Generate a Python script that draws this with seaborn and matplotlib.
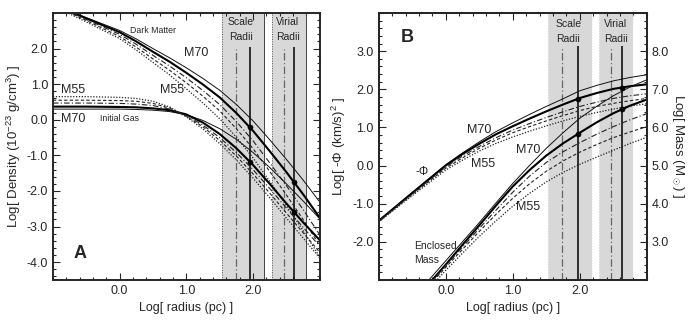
import numpy as np
import pandas as pd
import matplotlib.pyplot as plt
import seaborn as sns
from matplotlib.ticker import MultipleLocator, FormatStrFormatter

# shared radius grid, Log[ r (pc) ]
log_r = [-1.0, -0.5, 0.0, 0.25, 0.5, 0.75, 1.0, 1.25, 1.5, 1.75, 2.0, 2.25, 2.5, 2.75, 3.0]

# panel A: Log density (1e-23 g/cm^3)
dm_thin = [3.24, 2.87, 2.51, 2.27, 2.00, 1.74, 1.46, 1.16, 0.83, 0.43, -0.03, -0.56, -1.11, -1.69, -2.31]
dm_thick = [3.24, 2.85, 2.46, 2.20, 1.91, 1.63, 1.32, 0.99, 0.63, 0.19, -0.31, -0.88, -1.47, -2.09, -2.75]
dm_dashdot = [3.24, 2.82, 2.40, 2.12, 1.81, 1.51, 1.18, 0.82, 0.43, -0.05, -0.59, -1.21, -1.85, -2.52, -3.23]
dm_dashed = [3.22, 2.79, 2.34, 2.04, 1.71, 1.39, 1.04, 0.66, 0.25, -0.25, -0.81, -1.45, -2.11, -2.80, -3.53]
dm_dotted = [3.20, 2.75, 2.28, 1.96, 1.61, 1.26, 0.87, 0.47, 0.03, -0.49, -1.07, -1.73, -2.41, -3.11, -3.85]

gas_thin = [0.30, 0.30, 0.30, 0.29, 0.27, 0.23, 0.14, -0.02, -0.25, -0.55, -0.92, -1.34, -1.80, -2.28, -2.78]
gas_thick = [0.37, 0.37, 0.36, 0.35, 0.32, 0.27, 0.15, -0.08, -0.40, -0.80, -1.27, -1.80, -2.35, -2.88, -3.38]
gas_dashdot = [0.47, 0.47, 0.46, 0.44, 0.40, 0.30, 0.12, -0.15, -0.50, -0.92, -1.40, -1.93, -2.48, -3.02, -3.55]
gas_dashed = [0.55, 0.55, 0.54, 0.52, 0.46, 0.33, 0.10, -0.20, -0.58, -1.02, -1.52, -2.06, -2.62, -3.17, -3.72]
gas_dotted = [0.65, 0.65, 0.63, 0.60, 0.52, 0.36, 0.08, -0.26, -0.67, -1.13, -1.64, -2.19, -2.76, -3.32, -3.88]

# panel B: Log[-Phi (km/s)^2]
phi_thin = [-1.45, -0.71, 0.02, 0.33, 0.62, 0.89, 1.12, 1.34, 1.55, 1.75, 1.96, 2.10, 2.22, 2.31, 2.38]
phi_thick = [-1.45, -0.72, 0.00, 0.30, 0.57, 0.82, 1.03, 1.23, 1.42, 1.60, 1.77, 1.90, 2.01, 2.08, 2.13]
phi_dashdot = [-1.46, -0.74, -0.04, 0.25, 0.50, 0.73, 0.93, 1.10, 1.26, 1.41, 1.55, 1.66, 1.76, 1.83, 1.88]
phi_dashed = [-1.47, -0.76, -0.07, 0.20, 0.45, 0.67, 0.86, 1.02, 1.17, 1.31, 1.44, 1.55, 1.63, 1.70, 1.76]
phi_dotted = [-1.48, -0.79, -0.12, 0.14, 0.38, 0.58, 0.75, 0.90, 1.04, 1.17, 1.29, 1.39, 1.48, 1.56, 1.62]

# panel B: Log enclosed mass (Msun)
mass_thin = [0.50, 1.50, 2.50, 3.00, 3.50, 4.02, 4.53, 5.00, 5.45, 5.86, 6.24, 6.55, 6.83, 7.06, 7.25]
mass_thick = [0.40, 1.40, 2.40, 2.92, 3.43, 3.95, 4.45, 4.88, 5.26, 5.58, 5.86, 6.13, 6.37, 6.57, 6.73]
mass_dashdot = [0.38, 1.38, 2.37, 2.86, 3.35, 3.83, 4.30, 4.72, 5.08, 5.36, 5.60, 5.82, 6.02, 6.20, 6.36]
mass_dashed = [0.35, 1.35, 2.33, 2.80, 3.27, 3.72, 4.14, 4.52, 4.85, 5.12, 5.35, 5.55, 5.73, 5.88, 6.02]
mass_dotted = [0.30, 1.28, 2.25, 2.70, 3.14, 3.55, 3.93, 4.27, 4.57, 4.82, 5.03, 5.22, 5.40, 5.58, 5.74]

# radii markers
scale_a = {'band': (1.53, 2.17), 'dashdot': 1.74, 'solid': 1.95}
virial_a = {'band': (2.29, 2.79), 'dashdot': 2.46, 'solid': 2.62}
scale_b = {'band': (1.52, 2.18), 'dashdot': 1.73, 'solid': 1.97}
virial_b = {'band': (2.29, 2.80), 'dashdot': 2.47, 'solid': 2.63}
dots_a_x = [1.95, 1.95, 2.62, 2.62]
dots_a_y = [-0.20, -1.18, -1.75, -2.60]
dots_b_x = [1.97, 2.63, 1.97, 2.63]
dots_b_y = [1.75, 2.03, 0.83, 1.49]  # left-axis units

styles = {
    'thin': dict(linestyle='-', linewidth=0.7, color='#111111'),
    'thick': dict(linestyle='-', linewidth=1.5, color='black'),
    'dashdot': dict(linestyle=(0, (5, 2, 1, 2)), linewidth=0.8, color='#222222'),
    'dashed': dict(linestyle=(0, (3, 2)), linewidth=0.8, color='#222222'),
    'dotted': dict(linestyle=(0, (1, 1.3)), linewidth=0.9, color='#222222'),
}


def draw_family(ax, values):
    for name, ys in zip(['thin', 'thick', 'dashdot', 'dashed', 'dotted'], values):
        df = pd.DataFrame({'r': log_r, 'v': ys})
        sns.lineplot(data=df, x='r', y='v', ax=ax, sort=False, **styles[name])


def draw_radii(ax, info, ytop, ylo, edge_style):
    lo, hi = info['band']
    ax.axvspan(lo, hi, color='#d8d8d8', lw=0, zorder=0)
    if edge_style == 'A':
        ax.axvline(lo, color='#555555', lw=0.7, ls=(0, (1, 1.5)), zorder=1)
        ax.axvline(hi, color='#444444', lw=0.7, zorder=1)
    else:
        ax.axvline(lo, color='#f2f2f2', lw=0.8, ls=(0, (1, 1.5)), zorder=1)
        ax.axvline(hi, color='#f2f2f2', lw=0.8, ls=(0, (1, 1.5)), zorder=1)
    ax.vlines(info['dashdot'], ylo, ytop, color='#666666', lw=0.9, ls=(0, (6, 2, 1, 2)), zorder=1)
    ax.vlines(info['solid'], ylo, ytop + 0.05, color='black', lw=1.1, zorder=1)


def style_axis(ax):
    ax.set_xlim(-1, 3)
    ax.yaxis.set_major_locator(MultipleLocator(1.0))
    ax.yaxis.set_minor_locator(MultipleLocator(0.2))
    ax.xaxis.set_major_formatter(FormatStrFormatter('%.1f'))
    ax.yaxis.set_major_formatter(FormatStrFormatter('%.1f'))
    ax.tick_params(which='both', direction='in', top=True, labelsize=9, width=0.8)
    ax.tick_params(which='major', length=5)
    ax.tick_params(which='minor', length=2.5)
    for s in ax.spines.values():
        s.set_linewidth(1.4)
    ax.set_xlabel('Log[ radius (pc) ]', fontsize=9, labelpad=4)
    ax.set_xticks([0.0, 1.0, 2.0])
    ax.set_xticks(np.arange(-1.0, 3.01, 0.2), minor=True)


sns.set_style('ticks')
plt.rcParams['font.family'] = ['Liberation Sans', 'DejaVu Sans']
plt.rcParams['mathtext.fontset'] = 'custom'
plt.rcParams['mathtext.rm'] = 'Liberation Sans'

fig = plt.figure(figsize=(7, 3.34), dpi=100)
ax_a = fig.add_axes([0.0757, 0.162, 0.381, 0.799])
ax_b = fig.add_axes([0.541, 0.162, 0.383, 0.799])

# ---- panel A ----
draw_radii(ax_a, scale_a, 2.0, -4.5, 'A')
draw_radii(ax_a, virial_a, 2.0, -4.5, 'A')
draw_family(ax_a, [dm_thin, dm_thick, dm_dashdot, dm_dashed, dm_dotted])
draw_family(ax_a, [gas_thin, gas_thick, gas_dashdot, gas_dashed, gas_dotted])
sns.scatterplot(x=dots_a_x, y=dots_a_y, ax=ax_a, color='black', edgecolor='black', s=14, zorder=5)
style_axis(ax_a)
ax_a.set_ylim(-4.5, 3.0)
ax_a.set_yticks([-4.0, -3.0, -2.0, -1.0, 0.0, 1.0, 2.0])
ax_a.tick_params(which='both', right=True)
ax_a.set_ylabel('Log[ Density (10$^{-23}$ g/cm$^3$) ]', fontsize=9.5, labelpad=3)

ax_a.text(0.5, 2.5, 'Dark Matter', fontsize=6.3, ha='center', va='center')
ax_a.text(1.15, 1.88, 'M70', fontsize=9, ha='center', va='center')
ax_a.text(-0.7, 0.84, 'M55', fontsize=9, ha='center', va='center')
ax_a.text(0.78, 0.84, 'M55', fontsize=9, ha='center', va='center')
ax_a.text(-0.7, 0.03, 'M70', fontsize=9, ha='center', va='center')
ax_a.text(0.0, 0.04, 'Initial Gas', fontsize=6.3, ha='center', va='center')
ax_a.text(-0.6, -3.77, 'A', fontsize=13, fontweight='bold', ha='center', va='center')
ax_a.text(1.82, 2.53, 'Scale\nRadii', fontsize=7.5, ha='center', va='center', linespacing=1.6)
ax_a.text(2.52, 2.53, 'Virial\nRadii', fontsize=7.5, ha='center', va='center', linespacing=1.6)

# ---- panel B ----
draw_radii(ax_b, scale_b, 3.09, -3.0, 'B')
draw_radii(ax_b, virial_b, 3.09, -3.0, 'B')
draw_family(ax_b, [phi_thin, phi_thick, phi_dashdot, phi_dashed, phi_dotted])
style_axis(ax_b)
ax_b.set_ylim(-3.0, 4.0)
ax_b.set_yticks([-2.0, -1.0, 0.0, 1.0, 2.0, 3.0])
ax_b.tick_params(which='both', right=False)
ax_b.set_ylabel('Log[ -Φ (km/s)$^2$ ]', fontsize=9.5, labelpad=3)

ax_m = ax_b.twinx()
draw_family(ax_m, [mass_thin, mass_thick, mass_dashdot, mass_dashed, mass_dotted])
ax_m.set_ylim(2.0, 9.0)
ax_m.yaxis.set_major_locator(MultipleLocator(1.0))
ax_m.yaxis.set_minor_locator(MultipleLocator(0.2))
ax_m.yaxis.set_major_formatter(FormatStrFormatter('%.1f'))
ax_m.set_yticks([3.0, 4.0, 5.0, 6.0, 7.0, 8.0])
ax_m.tick_params(which='both', direction='in', labelsize=9, width=0.8)
ax_m.tick_params(which='major', length=5)
ax_m.tick_params(which='minor', length=2.5)
ax_m.set_ylabel('Log[ Mass (M$_\\odot$) ]', fontsize=9.5, rotation=270, labelpad=12)
for s in ax_m.spines.values():
    s.set_linewidth(1.4)
sns.scatterplot(x=dots_b_x, y=[v + 5.0 for v in dots_b_y], ax=ax_m, color='black',
                edgecolor='black', s=14, zorder=5)

ax_b.text(-0.57, 3.36, 'B', fontsize=13, fontweight='bold', ha='center', va='center')
ax_b.text(1.83, 3.52, 'Scale\nRadii', fontsize=7.5, ha='center', va='center', linespacing=1.6)
ax_b.text(2.54, 3.52, 'Virial\nRadii', fontsize=7.5, ha='center', va='center', linespacing=1.6)
ax_b.text(0.5, 0.94, 'M70', fontsize=9, ha='center', va='center')
ax_b.text(0.55, 0.05, 'M55', fontsize=9, ha='center', va='center')
ax_b.text(-0.36, -0.18, '-Φ', fontsize=8.5, ha='center', va='center')
ax_b.text(-0.47, -2.3, 'Enclosed\nMass', fontsize=7.5, ha='left', va='center', linespacing=1.5)
ax_b.text(1.23, 0.42, 'M70', fontsize=9, ha='center', va='center')
ax_b.text(1.23, -1.1, 'M55', fontsize=9, ha='center', va='center')

fig.savefig('out.png', dpi=100)
